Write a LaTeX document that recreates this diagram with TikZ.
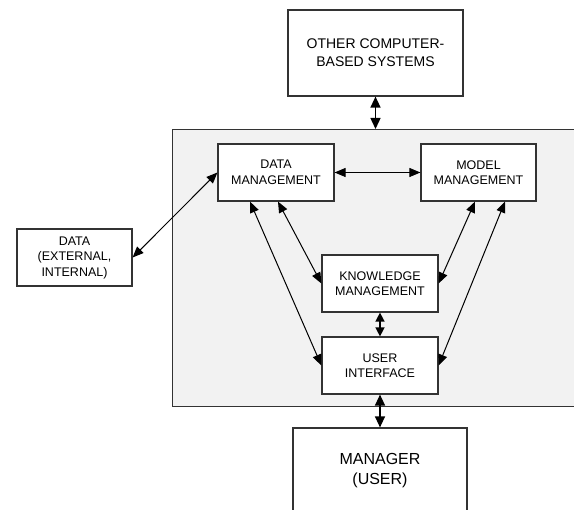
\documentclass[tikz,border=0pt]{standalone}
\usepackage{fontspec}
\setmainfont{Liberation Sans}
\usetikzlibrary{arrows.meta}
\definecolor{bd}{HTML}{333333}
\definecolor{panel}{HTML}{F2F2F2}
\begin{document}
\begin{tikzpicture}[x=1pt,y=-1pt,
  box/.style={draw=bd,line width=1.2pt,fill=white,rectangle,align=center,inner sep=0pt,
    minimum width=116pt,minimum height=57pt,font=\fontsize{12.5}{15.5}\selectfont},
  bigbox/.style={box,minimum width=175pt,minimum height=86pt},
  arr/.style={line width=1pt,{Triangle[length=11pt,width=9pt]}-{Triangle[length=11pt,width=9pt]}},
  sarr/.style={line width=1.4pt,{Triangle[length=11pt,width=10pt]}-{Triangle[length=11pt,width=10pt]}}]
\useasboundingbox (0,0) rectangle (574,510);
\clip (0,0) rectangle (574,510);
\node[draw=bd,line width=1.3pt,fill=panel,rectangle,inner sep=0pt,anchor=north west,
  minimum width=500pt,minimum height=277pt] (panel) at (172,129) {};
\node[bigbox,font=\fontsize{14}{18}\selectfont] (top) at (375.5,53) {OTHER COMPUTER-\\BASED SYSTEMS};
\node[box] (dm) at (276,172.5) {DATA\\MANAGEMENT};
\node[box,minimum width=115pt] (mm) at (478.5,172.5) {MODEL\\MANAGEMENT};
\node[box] (km) at (380,283.5) {KNOWLEDGE\\MANAGEMENT};
\node[box] (ui) at (380,365.5) {USER\\INTERFACE};
\node[box,minimum width=115pt] (data) at (74.5,257.5) {DATA\\(EXTERNAL,\\INTERNAL)};
\node[bigbox,minimum width=174pt,font=\fontsize{16}{20}\selectfont] (mgr) at (380,471) {MANAGER\\(USER)};
\draw[sarr] (top.south) -- (top.south |- panel.north);
\draw[arr] (dm.east) -- (mm.west);
\draw[arr] (data.east) -- (dm.west);
\draw[arr] ([xshift=2pt]dm.south) -- (km.west);
\draw[arr] ([xshift=-26pt]dm.south) -- (ui.west);
\draw[arr] ([xshift=-3.5pt]mm.south) -- (km.east);
\draw[arr] ([xshift=26.5pt]mm.south) -- (ui.east);
\draw[sarr,{Triangle[length=9pt,width=9pt]}-{Triangle[length=9pt,width=9pt]}] (km.south) -- (ui.north);
\draw[sarr] (ui.south) -- (mgr.north);
\end{tikzpicture}
\end{document}
